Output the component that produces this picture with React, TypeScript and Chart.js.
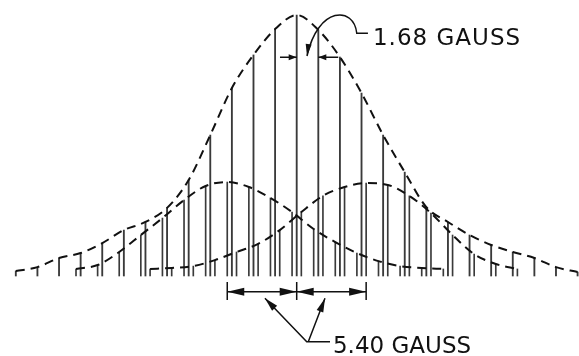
import React, { useEffect, useRef } from "react";
import { Chart, registerables } from "chart.js";

Chart.register(...registerables);

// Field positions (gauss) of the central line family, spacing 1.68 G
const mainPositions = [
  -21.84, -20.16, -18.48, -16.8, -15.12, -13.44, -11.76, -10.08, -8.4, -6.72, -5.04, -3.36, -1.68,
  0, 1.68, 3.36, 5.04, 6.72, 8.4, 10.08, 11.76, 13.44, 15.12, 16.8, 18.48, 20.16, 21.84,
];
const mainHeights = [
  0.019, 0.034, 0.069, 0.088, 0.126, 0.176, 0.207, 0.261, 0.368, 0.54, 0.72, 0.847, 0.946,
  1.0, 0.943, 0.839, 0.701, 0.54, 0.398, 0.264, 0.207, 0.157, 0.119, 0.092, 0.069, 0.034, 0.015,
];

// Left component family centred at -5.40 G
const leftPositions = [
  -17.16, -15.48, -13.8, -12.12, -10.44, -8.76, -7.08, -5.4, -3.72, -2.04, -0.36, 1.32, 3.0, 4.68,
  6.36, 8.04, 9.72, 11.4,
];
const leftHeights = [
  0.027, 0.042, 0.092, 0.157, 0.222, 0.291, 0.345, 0.36, 0.341, 0.299, 0.245, 0.18, 0.13, 0.088,
  0.057, 0.038, 0.031, 0.027,
];

// Right component family centred at +5.40 G
const rightPositions = [
  -11.4, -9.72, -8.04, -6.36, -4.68, -3.0, -1.32, 0.36, 2.04, 3.72, 5.4, 7.08, 8.76, 10.44, 12.12,
  13.8, 15.48, 17.16,
];
const rightHeights = [
  0.027, 0.031, 0.038, 0.061, 0.092, 0.123, 0.176, 0.245, 0.307, 0.341, 0.356, 0.349, 0.307, 0.241,
  0.157, 0.084, 0.046, 0.027,
];

const labelSplitting = "1.68 GAUSS";
const labelSeparation = "5.40 GAUSS";

const toPoints = (xs: number[], ys: number[]) => xs.map((x, i) => ({ x, y: ys[i] }));

const INK = "#111";

function arrowHead(
  ctx: CanvasRenderingContext2D,
  fx: number,
  fy: number,
  tx: number,
  ty: number,
  len: number,
  hw: number
) {
  const dx = tx - fx;
  const dy = ty - fy;
  const d = Math.hypot(dx, dy) || 1;
  const ux = dx / d;
  const uy = dy / d;
  const bx = tx - ux * len;
  const by = ty - uy * len;
  ctx.beginPath();
  ctx.moveTo(tx, ty);
  ctx.lineTo(bx - uy * hw, by + ux * hw);
  ctx.lineTo(bx + uy * hw, by - ux * hw);
  ctx.closePath();
  ctx.fill();
}

const annotationPlugin = {
  id: "annot",
  afterDatasetsDraw(chart: any) {
    const { ctx } = chart;
    const xs = chart.scales.x;
    const ys = chart.scales.y;
    const X = (g: number) => xs.getPixelForValue(g);
    const Y = (v: number) => ys.getPixelForValue(v);
    ctx.save();
    ctx.strokeStyle = INK;
    ctx.fillStyle = INK;
    ctx.lineWidth = 1.5;
    ctx.setLineDash([]);

    // ---- 1.68 gauss spacing arrows
    const ta = 0.838;
    ctx.beginPath();
    ctx.moveTo(X(-1.3), Y(ta));
    ctx.lineTo(X(0), Y(ta));
    ctx.moveTo(X(3.23), Y(ta));
    ctx.lineTo(X(1.68), Y(ta));
    ctx.stroke();
    arrowHead(ctx, X(-1.3), Y(ta), X(0), Y(ta), 8, 3);
    arrowHead(ctx, X(3.23), Y(ta), X(1.68), Y(ta), 8, 3);

    // curved leader
    ctx.beginPath();
    ctx.moveTo(X(5.54), Y(0.93));
    ctx.lineTo(X(4.67), Y(0.93));
    ctx.bezierCurveTo(X(4.46), Y(1.035), X(1.66), Y(1.035), X(0.8), Y(0.843));
    ctx.stroke();
    arrowHead(ctx, X(1.05), Y(0.93), X(0.8), Y(0.843), 12, 3);

    // ---- 5.40 gauss dimension
    const dv = -0.06;
    ctx.beginPath();
    ctx.moveTo(X(-5.4), Y(dv));
    ctx.lineTo(X(5.4), Y(dv));
    for (const g of [-5.4, 0, 5.4]) {
      ctx.moveTo(X(g), Y(-0.023));
      ctx.lineTo(X(g), Y(-0.092));
    }
    ctx.stroke();
    arrowHead(ctx, X(-3), Y(dv), X(-5.4), Y(dv), 17, 4);
    arrowHead(ctx, X(-3), Y(dv), X(0), Y(dv), 17, 4);
    arrowHead(ctx, X(3), Y(dv), X(0), Y(dv), 17, 4);
    arrowHead(ctx, X(3), Y(dv), X(5.4), Y(dv), 17, 4);

    // leaders to the label
    ctx.beginPath();
    ctx.moveTo(X(-2.47), Y(-0.085));
    ctx.lineTo(X(0.78), Y(-0.252));
    ctx.lineTo(X(2.59), Y(-0.252));
    ctx.moveTo(X(2.2), Y(-0.085));
    ctx.lineTo(X(0.9), Y(-0.252));
    ctx.stroke();
    arrowHead(ctx, X(0.78), Y(-0.252), X(-2.47), Y(-0.085), 14, 3.5);
    arrowHead(ctx, X(0.9), Y(-0.252), X(2.2), Y(-0.085), 14, 3.5);

    // labels
    ctx.font = '23px "DejaVu Sans"';
    ctx.textBaseline = "alphabetic";
    ctx.textAlign = "left";
    (ctx as any).letterSpacing = "1px";
    ctx.fillText(labelSplitting, X(5.93), Y(0.885));
    (ctx as any).letterSpacing = "0px";
    ctx.fillText(labelSeparation, X(2.82), Y(-0.295));
    ctx.restore();
  },
};

export default function App() {
  const ref = useRef<HTMLCanvasElement>(null);
  useEffect(() => {
    if (!ref.current) return;
    const stick = (data: any, w: number) => ({
      type: "bar" as const,
      data,
      backgroundColor: "#3a3a3a",
      borderWidth: 0,
      barThickness: w,
      grouped: false,
      order: 2,
    });
    const curve = (data: any) => ({
      type: "line" as const,
      data,
      borderColor: INK,
      borderWidth: 2,
      borderDash: [9, 6],
      pointRadius: 0,
      fill: false,
      cubicInterpolationMode: "monotone" as const,
      order: 0,
    });
    const chart = new Chart(ref.current, {
      type: "bar",
      data: {
        datasets: [
          stick(toPoints(mainPositions, mainHeights), 1.2),
          stick(toPoints(leftPositions, leftHeights), 1.0),
          stick(toPoints(rightPositions, rightHeights), 1.0),
          curve(toPoints(mainPositions, mainHeights)),
          curve(toPoints(leftPositions, leftHeights)),
          curve(toPoints(rightPositions, rightHeights)),
        ] as any,
      },
      options: {
        animation: false,
        responsive: false,
        devicePixelRatio: 1,
        layout: { padding: 0 },
        plugins: { legend: { display: false }, tooltip: { enabled: false } },
        scales: {
          x: { type: "linear", min: -23.07, max: 21.95, display: false, offset: false },
          y: { type: "linear", min: -0.3065, max: 1.0575, display: false },
        },
      },
      plugins: [annotationPlugin],
    });
    return () => chart.destroy();
  }, []);
  return (
    <div style={{ position: "fixed", left: 0, top: 0, width: 579, height: 356, background: "#fff" }}>
      <canvas ref={ref} width={579} height={356} />
    </div>
  );
}
